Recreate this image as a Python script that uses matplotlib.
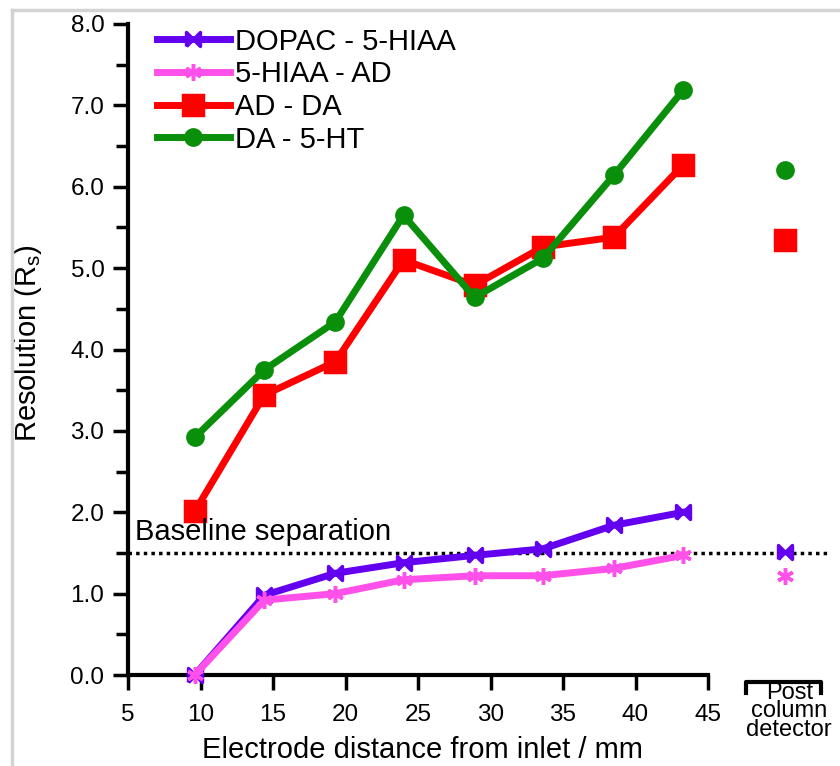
import matplotlib.pyplot as plt
from matplotlib.lines import Line2D
from matplotlib.path import Path
import matplotlib.transforms as mtransforms

plt.rcParams['font.family'] = ['Liberation Sans', 'DejaVu Sans']

# electrode distance from inlet (mm)
distance = [9.6, 14.4, 19.3, 24.0, 28.9, 33.6, 38.5, 43.3]
post_x = 50.3

series_names = ['DOPAC - 5-HIAA', '5-HIAA - AD', 'AD - DA', 'DA - 5-HT']
dopac_5hiaa = [0.0, 0.98, 1.25, 1.38, 1.47, 1.55, 1.84, 2.00]
hiaa_ad = [0.0, 0.92, 1.00, 1.17, 1.22, 1.22, 1.31, 1.47]
ad_da = [2.01, 3.44, 3.85, 5.10, 4.79, 5.26, 5.38, 6.27]
da_5ht = [2.92, 3.75, 4.34, 5.65, 4.64, 5.12, 6.14, 7.19]
# post column detector values
post_values = [1.51, 1.22, 5.34, 6.20]

baseline = 1.5
x_ticks = [5, 10, 15, 20, 25, 30, 35, 40, 45]
y_ticks = [0, 1, 2, 3, 4, 5, 6, 7, 8]

colors = ['#6400f0', '#ff50ea', '#ff0000', '#0a8f0a']
bowtie = Path([(-1, -1), (-1, 1), (1, -1), (1, 1), (-1, -1)])
markers = [bowtie, (6, 2, 0), 's', 'o']
msizes = [10, 12, 14, 11]

fig = plt.figure(figsize=(8.4, 7.66), dpi=100)
ax = fig.add_axes([128 / 840, 91 / 766, 712 / 840, 651 / 766])

all_series = [dopac_5hiaa, hiaa_ad, ad_da, da_5ht]
handles = []
for vals, name, c, m, ms, pv in zip(all_series, series_names, colors, markers, msizes, post_values):
    ln, = ax.plot(distance, vals, color=c, lw=5, marker=m, ms=ms, mew=2.5,
                  mec=c, mfc=c, label=name, clip_on=False, zorder=3)
    ax.plot([post_x], [pv], color=c, marker=m, ms=ms, mew=2.5, mec=c, mfc=c,
            ls='none', clip_on=False, zorder=3)
    handles.append(ln)

ax.axhline(baseline, xmin=0, xmax=(53.3 - 5) / (54.1 - 5), color='black', ls=(0, (1, 1.2)),
           lw=2.5, zorder=2)
ax.text(5.5, baseline + 0.08, 'Baseline separation', fontsize=21, ha='left', va='bottom')

ax.set_xlim(5, 54.1)
ax.set_ylim(0, 8)
ax.set_xticks(x_ticks)
ax.set_xticklabels([str(t) for t in x_ticks], fontsize=17.5)
ax.set_yticks(y_ticks)
ax.set_yticklabels(['%.1f' % t for t in y_ticks], fontsize=17.5)
ax.set_yticks([t + 0.5 for t in y_ticks[:-1]], minor=True)
ax.tick_params(axis='x', which='major', direction='out', length=11, width=2.5, pad=10)
ax.tick_params(axis='y', which='major', direction='out', length=11, width=2.5, pad=6)
ax.tick_params(axis='y', which='minor', direction='out', length=9, width=2.5)

for s in ['top', 'right']:
    ax.spines[s].set_visible(False)
ax.spines['left'].set_linewidth(3)
ax.spines['bottom'].set_linewidth(3)
ax.spines['bottom'].set_bounds(5, 45)

ax.set_xlabel('Electrode distance from inlet / mm', fontsize=21)
ax.xaxis.set_label_coords(0.413, -0.094)
ax.set_ylabel('Resolution (R$_\\mathregular{s}$)', fontsize=21)
ax.yaxis.set_label_coords(-0.118, 0.51)

# post column detector bracket
trans = mtransforms.blended_transform_factory(ax.transData, ax.transAxes)
ax.plot([47.6, 47.6, 52.8, 52.8], [-0.028, -0.01, -0.01, -0.028], color='black',
        lw=3, transform=trans, clip_on=False)
ax.text(50.6, -0.01, 'Post\ncolumn\ndetector', transform=trans, ha='center', va='top',
        fontsize=17, linespacing=0.82)

ax.legend(handles=handles, loc='upper left', bbox_to_anchor=(142 / 840, 1 - 13 / 766),
          bbox_transform=fig.transFigure, frameon=False, fontsize=21, handlelength=2.5,
          handletextpad=0.2, labelspacing=0.16, borderpad=0)

# light grey frame
fig.add_artist(Line2D([12 / 840, 12 / 840], [0, 1 - 10 / 766], color='#d3d3d3', lw=2.5))
fig.add_artist(Line2D([12 / 840, 1], [1 - 10 / 766, 1 - 10 / 766], color='#d3d3d3', lw=2.5))

fig.savefig('out.png', dpi=100)
